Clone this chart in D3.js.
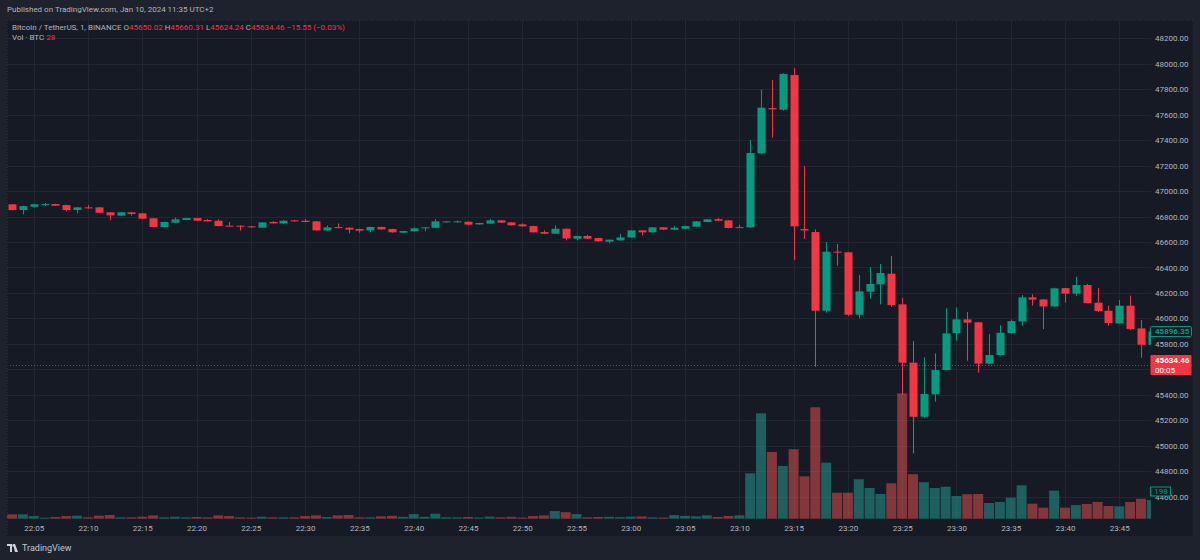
<!DOCTYPE html>
<html>
<head>
<meta charset="utf-8">
<script src="https://cdn.jsdelivr.net/npm/d3@7"></script>
<style>
  html, body { margin: 0; padding: 0; background: #1e222d; }
  svg { display: block; font-family: Roboto, "Liberation Sans", sans-serif; }
</style>
</head>
<body>
<div id="chart"></div>
<script>
// BTCUSDT 1m candles, 22:03 -> 23:48
var startTime = new Date(2024, 0, 10, 22, 3);

var opens = [46896,46851,46877,46890,46898,46890,46851,46872,46872,46833,46807,46833,46825,46786,46718,46752,46773,46788,46773,46767,46728,46728,46723,46712,46757,46746,46770,46767,46762,46691,46717,46712,46702,46691,46718,46702,
  46673,46684,46707,46712,46757,46754,46759,46738,46744,46770,46754,46738,46725,46678,46665,46704,46626,46647,46631,46602,46613,46636,46691,46676,46715,46697,46704,46720,46757,46780,46770,46712,
  46715,47296,47652,47639,47912,46702,46678,46060,46524,46519,46029,46210,46267,46351,46110,45652,45227,45403,45594,
  45885,45992,45969,45644,45712,45885,45976,46165,46149,46094,46238,46194,46262,46123,46060,45961,46100,45921,45793];
var highs = [46898,46884,46898,46906,46900,46892,46874,46890,46874,46835,46835,46836,46828,46788,46759,46793,46790,46790,46780,46778,46757,46730,46725,46756,46765,46773,46775,46780,46764,46730,46746,46715,46704,46720,46720,46704,
  46688,46715,46717,46778,46764,46770,46762,46751,46783,46772,46757,46746,46728,46691,46731,46707,46649,46655,46633,46620,46663,46693,46693,46717,46717,46725,46728,46764,46780,46788,46772,46736,
  47401,47799,47872,47925,47967,47197,46699,46600,46584,46522,46340,46403,46427,46490,46162,45822,45694,45725,46079,
  46086,46050,45972,45877,45945,45992,46183,46189,46151,46241,46240,46327,46270,46238,46100,46144,46178,45987,45900];
var lows = [46849,46817,46875,46885,46884,46841,46825,46862,46829,46770,46805,46807,46781,46716,46716,46750,46771,46765,46760,46723,46721,46689,46713,46710,46744,46744,46760,46755,46689,46689,46708,46668,46673,46676,46697,46674,
  46671,46682,46684,46710,46755,46752,46733,46736,46742,46750,46728,46721,46674,46663,46663,46613,46613,46624,46603,46589,46610,46634,46652,46674,46694,46694,46702,46718,46755,46765,46708,46710,
  46712,47290,47419,47631,46458,46623,45620,46045,46414,46020,45997,46155,46110,46092,45400,44939,45220,45345,45590,
  45825,45667,45573,45640,45708,45880,45942,46100,45916,46090,46123,46178,46118,46050,45942,45955,45910,45691,45790];
var closes = [46851,46882,46896,46898,46885,46851,46872,46864,46830,46809,46833,46820,46783,46718,46757,46778,46788,46767,46762,46725,46723,46723,46715,46754,46746,46767,46762,46757,46691,46715,46710,46697,46689,46718,46699,46676,
  46686,46707,46715,46762,46762,46762,46736,46749,46770,46752,46731,46723,46676,46665,46704,46628,46647,46626,46605,46618,46636,46691,46676,46715,46697,46712,46725,46762,46778,46767,46710,46717,
  47299,47655,47642,47920,46723,46691,46060,46524,46516,46029,46212,46270,46356,46105,45652,45227,45406,45594,45882,
  45992,45966,45644,45712,45887,45979,46165,46147,46094,46236,46194,46262,46120,46058,45963,46100,45916,45793,45896];
var volumes = [46,46,28,11,18,28,32,14,32,39,14,14,21,35,14,21,14,18,14,35,28,14,11,21,14,14,14,28,35,18,35,39,14,14,
  25,30,20,49,20,53,15,14,18,12,22,14,20,12,28,35,81,69,49,14,18,20,16,22,24,14,12,38,30,25,
  36,18,29,36,481,1117,707,559,736,449,1181,594,276,276,418,325,262,375,1329,472,387,325,339,241,259,262,166,177,223,354,159,117,297,117,145,156,177,135,131,177,212,198];

var priceTicks = [44600,44800,45000,45200,45400,45600,45800,46000,46200,46400,46600,46800,47000,47200,47400,47600,47800,48000,48200];
var lastPrice = 45634.46;
var markPrice = 45896.35;
var lastVolume = 198;

var colors = {
    up: '#089981',
    down: '#f23645',
    volUp: 'rgba(38,166,154,0.5)',
    volDown: 'rgba(239,83,80,0.5)',
    pane: '#161a25',
    frame: '#1e222d',
    grid: '#222632',
    text: '#b2b5be'
};

var width = 1200, height = 560;
var pane = { left: 7, top: 20, right: 1193, bottom: 536 };
var scaleLeft = 1151;

var candles = opens.map(function(o, i) {
    return {
        t: d3.timeMinute.offset(startTime, i),
        o: o, h: highs[i], l: lows[i], c: closes[i], v: volumes[i]
    };
});

var svg = d3.select('#chart').append('svg')
    .attr('width', width)
    .attr('height', height);

svg.append('rect').attr('width', width).attr('height', height).attr('fill', colors.frame);
svg.append('rect')
    .attr('x', pane.left).attr('y', pane.top)
    .attr('width', pane.right - pane.left).attr('height', pane.bottom - pane.top)
    .attr('fill', colors.pane);

var x = d3.scaleTime()
    .domain([candles[0].t, candles[104].t])
    .range([12, 1141]);
var y = d3.scaleLinear().domain([44600, 48200]).range([496.6, 38.3]);
var yVol = d3.scaleLinear().domain([0, 1329]).range([518.7, 393.3]);

svg.append('clipPath').attr('id', 'plot')
    .append('rect')
    .attr('x', pane.left).attr('y', pane.top)
    .attr('width', scaleLeft - pane.left).attr('height', 519 - pane.top);

// grid
var timeTicks = x.ticks(d3.timeMinute.every(5));
var grid = svg.append('g').attr('clip-path', 'url(#plot)');
grid.selectAll('.hg').data(priceTicks).enter().append('line')
    .attr('x1', pane.left).attr('x2', scaleLeft)
    .attr('y1', function(d) { return Math.round(y(d)) + 0.5; })
    .attr('y2', function(d) { return Math.round(y(d)) + 0.5; })
    .attr('stroke', colors.grid);
grid.selectAll('.vg').data(timeTicks).enter().append('line')
    .attr('x1', function(d) { return Math.round(x(d)) + 0.5; })
    .attr('x2', function(d) { return Math.round(x(d)) + 0.5; })
    .attr('y1', pane.top).attr('y2', 519)
    .attr('stroke', colors.grid);

var plot = svg.append('g').attr('clip-path', 'url(#plot)');

// volume bars
plot.selectAll('.vol').data(candles).enter().append('rect')
    .attr('x', function(d) { return x(d.t) - 5; })
    .attr('width', 10)
    .attr('y', function(d) { return yVol(d.v); })
    .attr('height', function(d) { return yVol(0) - yVol(d.v); })
    .attr('fill', function(d) { return d.c >= d.o ? colors.volUp : colors.volDown; });

// last price line
plot.append('line')
    .attr('x1', pane.left).attr('x2', scaleLeft)
    .attr('y1', Math.round(y(lastPrice)) + 0.5).attr('y2', Math.round(y(lastPrice)) + 0.5)
    .attr('stroke', colors.down).attr('stroke-opacity', 0.7)
    .attr('stroke-dasharray', '1,2');

// candles
var cg = plot.selectAll('.candle').data(candles).enter().append('g');
cg.append('line')
    .attr('x1', function(d) { return Math.round(x(d.t)) + 0.5; })
    .attr('x2', function(d) { return Math.round(x(d.t)) + 0.5; })
    .attr('y1', function(d) { return y(d.h); })
    .attr('y2', function(d) { return y(d.l); })
    .attr('stroke', function(d) { return d.c >= d.o ? colors.up : colors.down; });
cg.append('rect')
    .attr('x', function(d) { return Math.round(x(d.t)) - 3.5; })
    .attr('width', 8)
    .attr('y', function(d) { return y(Math.max(d.o, d.c)); })
    .attr('height', function(d) { return Math.max(1, Math.abs(y(d.o) - y(d.c))); })
    .attr('fill', function(d) { return d.c >= d.o ? colors.up : colors.down; });

// price scale (the tick under the last price box is hidden, as on the original)
var visibleTicks = priceTicks.filter(function(p) { return Math.abs(y(p) - y(lastPrice)) > 10; });
var yAxis = svg.append('g')
    .attr('transform', 'translate(' + scaleLeft + ',0)')
    .call(d3.axisRight(y).tickValues(visibleTicks).tickFormat(d3.format('.2f')).tickSize(0).tickPadding(4));
yAxis.select('.domain').remove();
yAxis.selectAll('text').attr('fill', colors.text).attr('font-size', 8).attr('font-family', 'Roboto, sans-serif');

// time scale
var xAxis = svg.append('g')
    .attr('transform', 'translate(0,522)')
    .call(d3.axisBottom(x).ticks(d3.timeMinute.every(5)).tickFormat(d3.timeFormat('%H:%M')).tickSize(0).tickPadding(3));
xAxis.select('.domain').remove();
xAxis.selectAll('text').attr('fill', colors.text).attr('font-size', 8).attr('font-family', 'Roboto, sans-serif');

// scale labels
function priceLabel(yPos, h, fill, stroke, lines, textColor) {
    var g = svg.append('g');
    g.append('rect')
        .attr('x', scaleLeft - 0.5).attr('y', yPos - h / 2)
        .attr('width', 41).attr('height', h)
        .attr('rx', 1)
        .attr('fill', fill).attr('stroke', stroke);
    lines.forEach(function(s, i) {
        g.append('text')
            .attr('x', scaleLeft + 4)
            .attr('y', yPos - (lines.length - 1) * 5 + i * 10)
            .attr('dy', '0.35em')
            .attr('font-size', 8)
            .attr('font-weight', i === 0 ? 'bold' : 'normal')
            .attr('fill', textColor)
            .text(s);
    });
}
priceLabel(y(markPrice), 10, colors.pane, colors.up, [markPrice.toFixed(2)], colors.up);
priceLabel(y(lastPrice), 20, colors.down, 'none', [lastPrice.toFixed(2), '00:05'], '#ffffff');

var volLab = svg.append('g');
volLab.append('rect')
    .attr('x', scaleLeft - 0.5).attr('y', 487).attr('width', 20).attr('height', 9)
    .attr('fill', colors.pane).attr('stroke', colors.up);
volLab.append('text')
    .attr('x', scaleLeft + 10).attr('y', 491.5).attr('dy', '0.35em')
    .attr('text-anchor', 'middle').attr('font-size', 8).attr('fill', colors.up)
    .text(lastVolume);

// pane borders
svg.append('line').attr('x1', pane.left + 0.5).attr('x2', pane.left + 0.5)
    .attr('y1', pane.top).attr('y2', pane.bottom)
    .attr('stroke', '#2a2e39').attr('stroke-dasharray', '1,2');
svg.append('line').attr('x1', pane.left).attr('x2', pane.right)
    .attr('y1', pane.top + 0.5).attr('y2', pane.top + 0.5)
    .attr('stroke', '#2a2e39').attr('stroke-dasharray', '1,2');

// header
svg.append('text')
    .attr('x', 7).attr('y', 9.5).attr('dy', '0.35em')
    .attr('font-size', 8).attr('fill', colors.text)
    .text('Published on TradingView.com, Jan 10, 2024 11:35 UTC+2');

var legend = svg.append('text')
    .attr('x', 12).attr('y', 27).attr('dy', '0.35em')
    .attr('font-size', 8).attr('fill', colors.text);
legend.append('tspan').text('Bitcoin / TetherUS, 1, BINANCE  ');
[['O', '45650.02'], ['H', '45660.31'], ['L', '45624.24'], ['C', '45634.46']].forEach(function(p) {
    legend.append('tspan').text(' ' + p[0]);
    legend.append('tspan').attr('fill', colors.down).text(p[1] + ' ');
});
legend.append('tspan').attr('fill', colors.down).text(' \u221215.55 (\u22120.03%)');

var vol = svg.append('text')
    .attr('x', 12).attr('y', 37.5).attr('dy', '0.35em')
    .attr('font-size', 8).attr('fill', colors.text);
vol.append('tspan').text('Vol \u00b7 BTC  ');
vol.append('tspan').attr('fill', colors.down).text('28');

// footer logo
var logo = svg.append('g').attr('transform', 'translate(7,548)');
logo.append('path')
    .attr('d', 'M0,-4 H5 V4 H3 V-2 H0 Z M6,-4 H8 L11,4 H8 Z')
    .attr('fill', '#d1d4dc');
logo.append('circle').attr('cx', 6.5).attr('cy', -2.5).attr('r', 1.2).attr('fill', '#d1d4dc');
logo.append('text')
    .attr('x', 15).attr('y', 0).attr('dy', '0.35em')
    .attr('font-size', 9).attr('fill', '#c3c6ce')
    .text('TradingView');
</script>
</body>
</html>
